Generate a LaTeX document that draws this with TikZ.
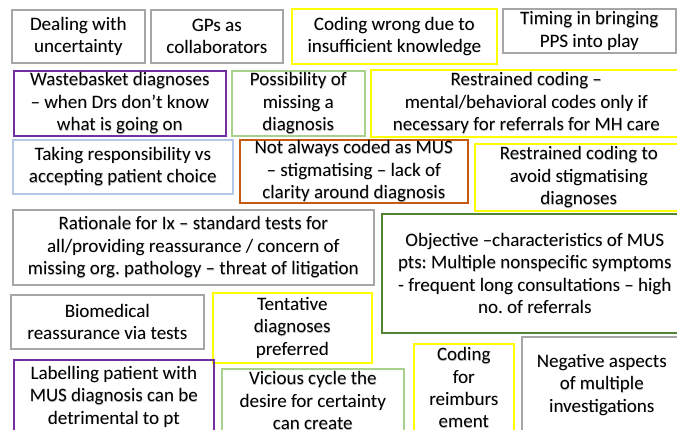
\documentclass[tikz,border=0pt]{standalone}
\usepackage{fontspec}
\setmainfont{Carlito}
\frenchspacing
\definecolor{cgray}{HTML}{A6A6A6}
\definecolor{cyellow}{HTML}{FFFF00}
\definecolor{cpurple}{HTML}{7030A0}
\definecolor{clgreen}{HTML}{A9D18E}
\definecolor{clblue}{HTML}{B4C7E7}
\definecolor{corange}{HTML}{C55A11}
\definecolor{cdgreen}{HTML}{548235}
\tikzset{
  cardtext/.style={rectangle, inner sep=0pt, align=center,
    font=\fontsize{19}{22.4}\selectfont},
  card/.style={cardtext, draw=#1, line width=1.6pt, text=black},
  cardshadow/.style={cardtext, text=black!28},
}
\newcommand{\cardbox}[7]{% name, color, x1, y1, x2, y2, text
  \node[cardshadow, anchor=north west, minimum width={#5-#3}, minimum height={#6-#4}] (#1s) at (#3+1,#4+1) {#7};
  \node[card=#2, anchor=north west, minimum width={#5-#3}, minimum height={#6-#4}] (#1) at (#3,#4) {#7};}
\begin{document}
\begin{tikzpicture}[x=1pt,y=-1pt]
\useasboundingbox (0,0) rectangle (677,429);
\clip (0,0) rectangle (677,429);
\fill[white] (0,0) rectangle (677,429);
\cardbox{a1}{cgray}{11}{9}{144}{62}{Dealing with\\uncertainty}
\cardbox{a2}{cgray}{150}{9}{282}{62}{GPs as\\collaborators}
\cardbox{a3}{cyellow}{291}{8}{496}{63}{Coding wrong due to\\insufficient knowledge}
\cardbox{a4}{cgray}{502}{8}{675}{52}{Timing in bringing\\PPS into play}
\cardbox{b1}{cpurple}{13}{70}{225}{135}{Wastebasket diagnoses\\– when Drs don’t know\\what is going on}
\cardbox{b2}{clgreen}{231}{70}{364}{135}{Possibility of\\missing a\\diagnosis}
\cardbox{b3}{cyellow}{370}{69}{681}{136}{Restrained coding –\\mental/behavioral codes only if\\necessary for referrals for MH care}
\cardbox{c1}{clblue}{12}{139}{232}{193}{Taking responsibility vs\\accepting patient choice}
\cardbox{c2}{corange}{239}{139}{467}{202}{Not always coded as MUS\\– stigmatising – lack of\\clarity around diagnosis}
\cardbox{c3}{cyellow}{474}{143}{682}{210}{Restrained coding to\\avoid stigmatising\\diagnoses}
\cardbox{d1}{cgray}{12}{209}{373}{284}{Rationale for Ix – standard tests for\\all/providing reassurance / concern of\\missing org. pathology – threat of litigation}
\cardbox{d2}{cdgreen}{381}{213}{687}{332}{Objective –characteristics of MUS\\pts: Multiple nonspecific symptoms\\- frequent long consultations – high\\no. of referrals}
\cardbox{e1}{cgray}{10}{294}{203}{348}{Biomedical\\reassurance via tests}
\cardbox{e2}{cyellow}{212}{292}{371}{362}{Tentative\\diagnoses\\preferred}
\cardbox{f1}{cpurple}{13}{359}{213}{433}{Labelling patient with\\MUS diagnosis can be\\detrimental to pt}
\cardbox{f2}{clgreen}{221}{368}{403}{432}{Vicious cycle the\\desire for certainty\\can create}
\cardbox{f3}{cyellow}{413}{343}{513}{431}{Coding\\for\\reimburs\\ement}
\cardbox{f4}{cgray}{521}{336}{681}{432}{Negative aspects\\of multiple\\investigations}
\end{tikzpicture}
\end{document}
